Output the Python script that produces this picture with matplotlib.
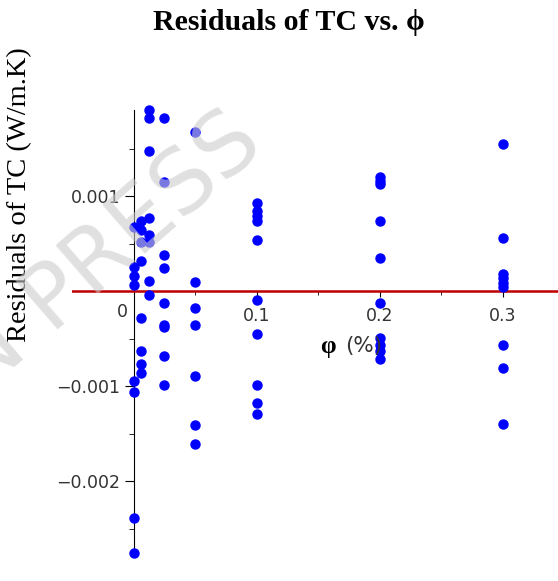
import matplotlib.pyplot as plt
import numpy as np

# volume fraction columns (%)
phi = [0.0, 0.00625, 0.0125, 0.025, 0.05, 0.1, 0.2, 0.3]

# residuals of thermal conductivity for each phi (W/m.K)
res_0 = [0.000676, 0.000253, 0.000158, 0.000063, -0.00094, -0.001056, -0.002386, -0.002756]
res_00625 = [0.000739, 0.000644, 0.000517, 0.000317, -0.000285, -0.000623, -0.00076, -0.000855]
res_0125 = [0.001911, 0.001827, 0.001478, 0.000771, 0.000591, 0.000517, 0.000106, -0.000042]
res_025 = [0.001827, 0.001151, 0.00038, 0.000243, -0.000127, -0.000359, -0.00038, -0.000676, -0.000982]
res_05 = [0.001679, 0.000095, -0.00018, -0.000359, -0.000887, -0.001404, -0.001605]
res_1 = [0.000929, 0.000845, 0.000792, 0.000739, 0.000539, -0.000095, -0.000444, -0.000982, -0.001172, -0.001288]
res_2 = [0.001204, 0.001162, 0.00113, 0.000739, 0.000348, -0.000127, -0.000496, -0.00056, -0.000623, -0.000708]
res_3 = [0.001552, 0.00056, 0.00018, 0.000137, 0.000084, 0.000042, -0.00056, -0.000803, -0.001394]

residuals = [res_0, res_00625, res_0125, res_025, res_05, res_1, res_2, res_3]

xticks = [0.1, 0.2, 0.3]
xtick_labels = ['0.1', '0.2', '0.3']
yticks = [-0.002, -0.001, 0.001]
ytick_labels = ['\u22120.002', '\u22120.001', '0.001']

fig = plt.figure(figsize=(5.58, 5.81), dpi=100)
ax = fig.add_axes([72/558, 1-553/581, 1-72/558, (553-110)/581])

# flatten the columns into x,y pairs
xs = []
ys = []
for p, r in zip(phi, residuals):
    xs += [p]*len(r)
    ys += r
ax.plot(xs, ys, 'o', color='#0000ff', markersize=6.5, zorder=4, clip_on=False)

ax.set_xlim(-0.05, 0.345)
ax.set_ylim(min(ys), max(ys))

# axes crossing at the origin, maple style
ax.spines['left'].set_position(('data', 0))
ax.spines['bottom'].set_position(('data', 0))
ax.spines['top'].set_visible(False)
ax.spines['right'].set_visible(False)
ax.axhline(0, color='#c00000', lw=1.8, zorder=3)

ax.set_xticks(xticks)
ax.set_xticklabels(xtick_labels)
ax.set_xticks([0.05, 0.15, 0.25], minor=True)
ax.set_yticks(yticks)
ax.set_yticklabels(ytick_labels)
ax.set_yticks([-0.0025, -0.0015, -0.0005, 0.0005, 0.0015], minor=True)
ax.tick_params(axis='x', which='major', length=4, pad=7, labelsize=12.5, labelcolor='#333333')
ax.tick_params(axis='x', which='minor', length=3)
ax.tick_params(axis='y', which='major', length=6.5, pad=3, labelsize=12.5, labelcolor='#333333')
ax.tick_params(axis='y', which='minor', length=3.5)

ax.annotate('0', xy=(0, 0), xytext=(-8, -14.5), textcoords='offset points',
            ha='center', va='center', fontsize=12.5, color='#333333')

fig.text(0.518, 0.962, 'Residuals of TC vs. \u03d5', ha='center', va='center',
         fontsize=21.5, fontweight='bold', family='Liberation Serif')
fig.text(0.036, 0.665, 'Residuals of TC (W/m.K)', rotation=90, ha='center', va='center',
         fontsize=20.5, family='Liberation Serif')
fig.text(0.588, 1-347/581, '\u03c6', ha='center', va='center', fontsize=18,
         fontweight='bold', family='Liberation Serif')
fig.text(0.652, 1-346/581, '(%)', ha='center', va='center', fontsize=15.5, color='#333333')

# watermark on top of the points
fig.text(266/558, 1-148/581, 'IN PRESS', rotation=41, rotation_mode='anchor',
         ha='right', va='baseline', fontsize=64, color=(0.8, 0.8, 0.8), alpha=0.6,
         zorder=10)

plt.savefig('out.png', dpi=100)
